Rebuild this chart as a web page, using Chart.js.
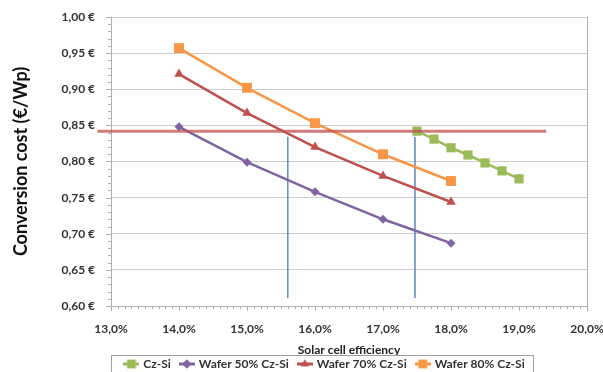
<!DOCTYPE html>
<html>
<head>
<meta charset="utf-8">
<script src="https://cdn.jsdelivr.net/npm/chart.js@4/dist/chart.umd.min.js"></script>
<style>
  html, body { margin: 0; padding: 0; background: #fff; }
  #wrap { width: 603px; height: 372px; }
</style>
</head>
<body>
<div id="wrap"><canvas id="costChart" width="603" height="372"></canvas></div>
<script>
// efficiency (%) for the wafer scenarios and for Cz-Si
const waferEff = [14, 15, 16, 17, 18];
const czEff = [17.5, 17.75, 18, 18.25, 18.5, 18.75, 19];

// conversion cost in €/Wp
const czSi = [0.842, 0.831, 0.819, 0.809, 0.798, 0.787, 0.776];
const wafer50 = [0.848, 0.799, 0.758, 0.720, 0.687];
const wafer70 = [0.921, 0.867, 0.820, 0.780, 0.744];
const wafer80 = [0.957, 0.902, 0.853, 0.810, 0.773];

// reference lines drawn on the chart
const refLevelX = [12.8, 19.4];
const refLevelY = [0.842, 0.842];
const breakEven1X = [15.6, 15.6];
const breakEven2X = [17.47, 17.47];
const breakEvenY = [0.834, 0.611];

const toPoints = (xs, ys) => xs.map((x, i) => ({ x: x, y: ys[i] }));

const FONT = 'Lato, "Open Sans", sans-serif';

// small "line + marker" icons for the legend, like Excel
function legendIcon(color, shape) {
    const c = document.createElement('canvas');
    c.width = 16;
    c.height = 10;
    const g = c.getContext('2d');
    g.strokeStyle = color;
    g.fillStyle = color;
    g.lineWidth = 3;
    g.beginPath();
    g.moveTo(0, 5);
    g.lineTo(16, 5);
    g.stroke();
    Chart.helpers.drawPoint(g, { pointStyle: shape, radius: shape === 'rect' ? 6 : 4.5, borderWidth: 0 }, 8, 5);
    g.fill();
    return c;
}

// draws the right frame edge, minor tick marks and the legend border
const framePlugin = {
    id: 'frame',
    afterLayout(chart) {
        // centre the legend under the plot like the original
        const lg = chart.legend;
        if (!lg) return;
        const dx = 325 - (lg.left + lg.right) / 2;
        lg.left += dx;
        lg.right += dx;
    },
    afterDraw(chart) {
        const ctx = chart.ctx;
        const area = chart.chartArea;
        const xs = chart.scales.x;
        const ys = chart.scales.y;
        ctx.save();
        ctx.strokeStyle = '#b0b0b0';
        ctx.lineWidth = 1;
        ctx.beginPath();
        ctx.moveTo(Math.round(area.right) + 0.5, area.top);
        ctx.lineTo(Math.round(area.right) + 0.5, area.bottom);
        // x minor ticks every 0.1 %
        for (let v = 13; v <= 20.001; v += 0.1) {
            const px = Math.round(xs.getPixelForValue(v)) + 0.5;
            const major = Math.abs(v - Math.round(v)) < 0.01;
            ctx.moveTo(px, area.bottom);
            ctx.lineTo(px, area.bottom + (major ? 5 : 3));
        }
        // y minor ticks every 0.01
        for (let v = 0.6; v <= 1.0001; v += 0.01) {
            const py = Math.round(ys.getPixelForValue(v)) + 0.5;
            const major = Math.abs(v * 20 - Math.round(v * 20)) < 0.01;
            ctx.moveTo(area.left, py);
            ctx.lineTo(area.left - (major ? 5 : 3), py);
        }
        ctx.stroke();

        const lg = chart.legend;
        if (lg && lg.legendHitBoxes.length) {
            const boxes = lg.legendHitBoxes;
            const l = boxes[0].left - 14;
            const r = boxes[boxes.length - 1].left + boxes[boxes.length - 1].width + 9;
            const top = boxes[0].top + boxes[0].height / 2 - 9;
            ctx.strokeStyle = '#a0a0a0';
            ctx.strokeRect(Math.round(l) + 0.5, Math.round(top) + 0.5, Math.round(r - l), 40);
        }
        ctx.restore();
    }
};

const icons = [
    legendIcon('#9bbb59', 'rect'),
    legendIcon('#8064a2', 'rectRot'),
    legendIcon('#c0504d', 'triangle'),
    legendIcon('#f79646', 'rect')
];

const ctx = document.getElementById('costChart').getContext('2d');
const costChart = new Chart(ctx, {
    type: 'line',
    data: {
        datasets: [
            {
                label: 'Cz-Si',
                data: toPoints(czEff, czSi),
                borderColor: '#9bbb59',
                backgroundColor: '#9bbb59',
                borderWidth: 2.5,
                pointStyle: 'rect',
                pointRadius: 6.5,
                pointBorderWidth: 0,
                order: 1
            },
            {
                label: 'Wafer 50% Cz-Si',
                data: toPoints(waferEff, wafer50),
                borderColor: '#8064a2',
                backgroundColor: '#8064a2',
                borderWidth: 2.5,
                pointStyle: 'rectRot',
                pointRadius: 4.5,
                pointBorderWidth: 0,
                order: 2
            },
            {
                label: 'Wafer 70% Cz-Si',
                data: toPoints(waferEff, wafer70),
                borderColor: '#c0504d',
                backgroundColor: '#c0504d',
                borderWidth: 2.5,
                pointStyle: 'triangle',
                pointRadius: 5.5,
                pointBorderWidth: 0,
                order: 3
            },
            {
                label: 'Wafer 80% Cz-Si',
                data: toPoints(waferEff, wafer80),
                borderColor: '#f79646',
                backgroundColor: '#f79646',
                borderWidth: 2.5,
                pointStyle: 'rect',
                pointRadius: 7,
                pointBorderWidth: 0,
                order: 4
            },
            {
                label: 'level',
                data: toPoints(refLevelX, refLevelY),
                borderColor: 'rgba(192, 80, 77, 0.75)',
                borderWidth: 3,
                pointRadius: 0,
                clip: false,
                order: 0
            },
            {
                label: 'be1',
                data: toPoints(breakEven1X, breakEvenY),
                borderColor: 'rgba(79, 129, 189, 0.7)',
                borderWidth: 1,
                pointRadius: 0,
                order: 5
            },
            {
                label: 'be2',
                data: toPoints(breakEven2X, breakEvenY),
                borderColor: 'rgba(79, 129, 189, 0.7)',
                borderWidth: 1,
                pointRadius: 0,
                order: 5
            }
        ]
    },
    options: {
        responsive: false,
        animation: false,
        layout: { padding: { left: 0, right: 0, top: 17, bottom: -8 } },
        plugins: {
            tooltip: { enabled: false },
            legend: {
                position: 'bottom',
                labels: {
                    usePointStyle: true,
                    boxWidth: 12,
                    boxHeight: 10,
                    padding: 10,
                    color: '#333',
                    font: { family: FONT, size: 12, weight: 'bold' },
                    generateLabels: chart => {
                        const items = Chart.defaults.plugins.legend.labels.generateLabels(chart);
                        return items.filter(it => it.datasetIndex < 4).map(it => {
                            it.pointStyle = icons[it.datasetIndex];
                            return it;
                        });
                    }
                }
            }
        },
        scales: {
            x: {
                type: 'linear',
                min: 13,
                max: 20,
                afterFit: s => {
                    s.height = 42;
                    s.paddingLeft = 0;
                    s.paddingRight = 16;
                },
                ticks: {
                    stepSize: 1,
                    padding: 8,
                    color: '#333',
                    font: { family: FONT, size: 12, weight: 'bold' },
                    callback: v => v.toFixed(1).replace('.', ',') + '%'
                },
                grid: { display: false },
                border: { color: '#b0b0b0' },
                title: {
                    display: true,
                    text: 'Solar cell efficiency',
                    color: '#222',
                    padding: { top: 0, bottom: -9 },
                    font: { family: FONT, size: 12, weight: 'bold' }
                }
            },
            y: {
                min: 0.6,
                max: 1.0,
                afterFit: s => {
                    s.width = 111;
                    s.paddingTop = 0;
                    s.paddingBottom = 0;
                },
                ticks: {
                    stepSize: 0.05,
                    padding: 16,
                    color: '#333',
                    font: { family: FONT, size: 12, weight: 'bold' },
                    callback: v => v.toFixed(2).replace('.', ',') + ' €'
                },
                grid: { color: '#cccccc', drawTicks: false },
                border: { color: '#b0b0b0' },
                title: {
                    display: true,
                    text: 'Conversion cost (€/Wp)',
                    color: '#111',
                    padding: { top: 10, bottom: 0 },
                    font: { family: FONT, size: 18, weight: 'bold' }
                }
            }
        }
    },
    plugins: [framePlugin]
});
</script>
</body>
</html>
